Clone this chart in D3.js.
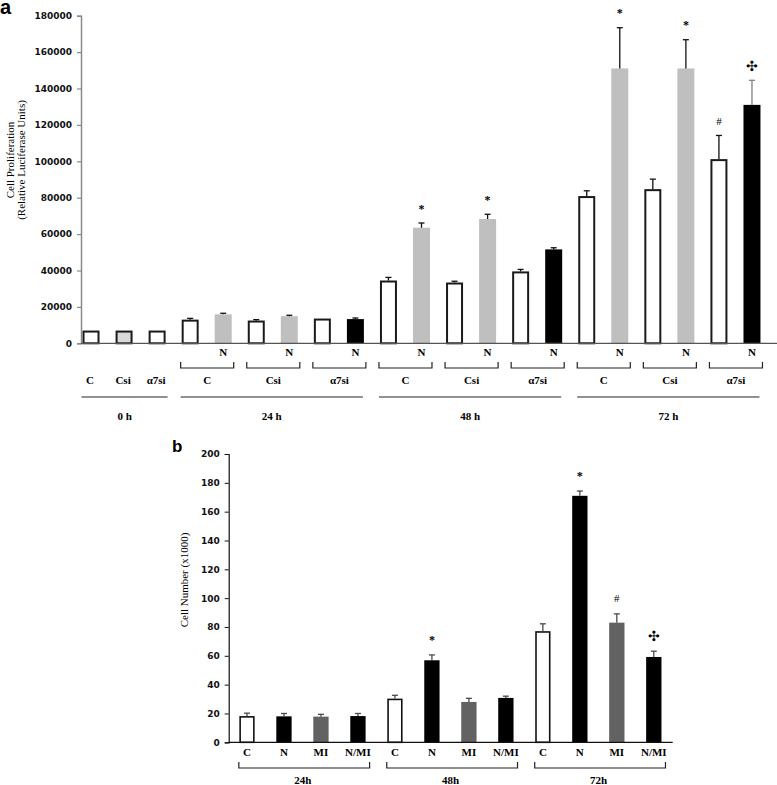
<!DOCTYPE html>
<html><head><meta charset="utf-8">
<script src="https://cdn.jsdelivr.net/npm/d3@7"></script>
<style>
body{margin:0;background:#fff;}
svg{display:block;}
.tick text{font-family:"DejaVu Sans",sans-serif;font-weight:bold;font-size:9px;fill:#111;}
</style></head>
<body>
<script>
// ---------- Panel a data ----------
const topTimes = ["0 h", "24 h", "48 h", "72 h"];
const topGroups = ["C", "Csi", "α7si"];
const topBarLabels = ["", "", "", "", "N", "", "N", "", "N", "", "N", "", "N", "", "N", "", "N", "", "N", "", "N"];
const topFills = ["white", "light", "white", "white", "gray", "white", "gray", "white", "black", "white", "gray", "white", "gray", "white", "black", "white", "gray", "white", "gray", "white", "black"];
const topValues = [7000, 7000, 7000, 13000, 15900, 12500, 14900, 13600, 13300, 34500, 63500, 33400, 68300, 39500, 51600, 80900, 151000, 84700, 151000, 101200, 131000];
const topErrors = [0, 0, 0, 700, 600, 500, 500, 0, 600, 1700, 2600, 700, 2600, 1100, 900, 2900, 22400, 5500, 15800, 13000, 13500];
const topMarks = ["", "", "", "", "", "", "", "", "", "", "*", "", "*", "", "", "", "*", "", "*", "#", "✣"];
const topTicks = [0, 20000, 40000, 60000, 80000, 100000, 120000, 140000, 160000, 180000];

// ---------- Panel b data ----------
const botTimes = ["24h", "48h", "72h"];
const botCats = ["C", "N", "MI", "N/MI", "C", "N", "MI", "N/MI", "C", "N", "MI", "N/MI"];
const botFills = ["white", "black", "dgray", "black", "white", "black", "dgray", "black", "white", "black", "dgray", "black"];
const botValues = [18.2, 18, 17.8, 18.2, 30.3, 56.9, 28, 30.8, 77.1, 171, 83, 59.2];
const botErrors = [2, 2, 1.6, 1.8, 2.3, 3.7, 2.5, 1.2, 5.1, 3.3, 6.1, 4];
const botMarks = ["", "", "", "", "", "*", "", "", "", "*", "#", "✣"];
const botTicks = [0, 20, 40, 60, 80, 100, 120, 140, 160, 180, 200];

const W = 777, H = 785;
const svg = d3.select("body").append("svg").attr("width", W).attr("height", H);
const serif = "'Liberation Serif','Times New Roman',serif";
const sans = "'Liberation Sans',Arial,sans-serif";

const fillColor = {white: "#ffffff", light: "#d9d9d9", gray: "#bfbfbf", black: "#000000", dgray: "#626262"};

// ================= Panel a =================
{
  const n = topValues.length;
  const x = d3.scaleBand().domain(d3.range(n)).range([74.5, 768.5]).paddingInner(0.486).paddingOuter(0.243);
  const y = d3.scaleLinear().domain([0, 180000]).range([343.3, 15.7]);
  const g = svg.append("g");

  const ya = g.append("g").attr("transform", "translate(81,0)")
    .call(d3.axisLeft(y).tickValues(topTicks).tickSize(4).tickPadding(5).tickFormat(d3.format("d")));
  ya.select(".domain").attr("stroke", "#8a8a8a").attr("stroke-width", 1.5);
  ya.selectAll(".tick line").attr("stroke", "#8a8a8a").attr("stroke-width", 1.2);

  topValues.forEach((v, i) => {
    const f = topFills[i];
    const outlined = (f === "white" || f === "light");
    const sw = outlined ? 2 : 0;
    g.append("rect")
      .attr("x", x(i) + sw / 2).attr("width", x.bandwidth() - sw)
      .attr("y", y(v) + sw / 2).attr("height", y(0) - y(v) - sw / 2)
      .attr("fill", fillColor[f])
      .attr("stroke", outlined ? "#1a1a1a" : "none").attr("stroke-width", sw);
    const e = topErrors[i];
    const cx = x(i) + x.bandwidth() / 2;
    if (e > 0) {
      const ec = (f === "black" && i === n - 1) ? "#808080" : "#111";
      g.append("line").attr("x1", cx).attr("x2", cx).attr("y1", y(v)).attr("y2", y(v + e))
        .attr("stroke", ec).attr("stroke-width", 1.3);
      g.append("line").attr("x1", cx - 3).attr("x2", cx + 3).attr("y1", y(v + e)).attr("y2", y(v + e))
        .attr("stroke", ec).attr("stroke-width", 1.3);
    }
    if (topMarks[i]) {
      const m = topMarks[i];
      g.append("text").attr("x", cx).attr("y", y(v + e) - 13)
        .attr("text-anchor", "middle").attr("dominant-baseline", "middle")
        .attr("font-family", m === "✣" ? "'DejaVu Sans',sans-serif" : serif)
        .attr("font-weight", m === "*" ? "bold" : "normal")
        .attr("font-size", m === "✣" ? 14 : (m === "*" ? 12 : 11))
        .text(m);
    }
    if (topBarLabels[i]) {
      g.append("text").attr("x", cx).attr("y", 353).attr("text-anchor", "middle")
        .attr("dominant-baseline", "middle").attr("font-family", serif).attr("font-weight", "bold")
        .attr("font-size", 11).text(topBarLabels[i]);
    }
  });

  g.append("line").attr("x1", 81).attr("x2", 777).attr("y1", 343.3).attr("y2", 343.3)
    .attr("stroke", "#555").attr("stroke-width", 1.3);

  for (let i = 0; i < 3; i++) {
    g.append("text").attr("x", x(i) + x.bandwidth() / 2 - 1).attr("y", 381).attr("text-anchor", "middle")
      .attr("dominant-baseline", "middle").attr("font-family", serif).attr("font-weight", "bold")
      .attr("font-size", 11).text(topGroups[i]);
  }
  for (let t = 1; t < 4; t++) {
    for (let k = 0; k < 3; k++) {
      const i0 = 3 + (t - 1) * 6 + k * 2, i1 = i0 + 1;
      const xl = x(i0) - 1, xr = x(i1) + x.bandwidth() + 2;
      g.append("path").attr("d", `M${xl},362V368H${xr}V362`).attr("fill", "none")
        .attr("stroke", "#222").attr("stroke-width", 1.2);
      g.append("text").attr("x", (xl + xr) / 2).attr("y", 381).attr("text-anchor", "middle")
        .attr("dominant-baseline", "middle").attr("font-family", serif).attr("font-weight", "bold")
        .attr("font-size", 11).text(topGroups[k]);
    }
  }
  topTimes.forEach((tl, t) => {
    const i0 = t === 0 ? 0 : 3 + (t - 1) * 6;
    const i1 = t === 0 ? 2 : i0 + 5;
    const xl = x(i0) - 1, xr = x(i1) + x.bandwidth() + (t === 0 ? 2 : -1);
    g.append("line").attr("x1", xl).attr("x2", xr).attr("y1", 397).attr("y2", 397)
      .attr("stroke", "#222").attr("stroke-width", 1);
    g.append("text").attr("x", (xl + xr) / 2).attr("y", 417).attr("text-anchor", "middle")
      .attr("dominant-baseline", "middle").attr("font-family", serif).attr("font-weight", "bold")
      .attr("font-size", 11).text(tl);
  });

  const yt = g.append("text").attr("transform", "translate(10,160) rotate(-90)")
    .attr("text-anchor", "middle").attr("font-family", serif).attr("font-size", 11);
  yt.append("tspan").attr("x", 0).attr("dy", "0.35em").text("Cell Proliferation");
  yt.append("tspan").attr("x", 0).attr("dy", "1.0em").text("(Relative Luciferase Units)");

  svg.append("text").attr("x", 0).attr("y", 14).attr("font-family", sans).attr("font-weight", "bold")
    .attr("font-size", 20).text("a");
}

// ================= Panel b =================
{
  const n = botValues.length;
  const x = d3.scaleBand().domain(d3.range(n)).range([228.5, 672.3]).paddingInner(0.586).paddingOuter(0.293);
  const y = d3.scaleLinear().domain([0, 200]).range([742.3, 454]);
  const g = svg.append("g");

  const ya = g.append("g").attr("transform", "translate(228.7,0)")
    .call(d3.axisLeft(y).tickValues(botTicks).tickSize(4).tickPadding(5).tickFormat(d3.format("d")));
  ya.select(".domain").attr("stroke", "#111").attr("stroke-width", 1.2);
  ya.selectAll(".tick line").attr("stroke", "#111").attr("stroke-width", 1);

  botValues.forEach((v, i) => {
    const f = botFills[i];
    const outlined = f === "white";
    const sw = outlined ? 1.6 : 0;
    g.append("rect")
      .attr("x", x(i) + sw / 2).attr("width", x.bandwidth() - sw)
      .attr("y", y(v) + sw / 2).attr("height", y(0) - y(v) - sw / 2)
      .attr("fill", fillColor[f])
      .attr("stroke", outlined ? "#111" : "none").attr("stroke-width", sw);
    const e = botErrors[i];
    const cx = x(i) + x.bandwidth() / 2;
    const ec = "#4a4a4a";
    g.append("line").attr("x1", cx).attr("x2", cx).attr("y1", y(v)).attr("y2", y(v + e))
      .attr("stroke", ec).attr("stroke-width", 1.3);
    g.append("line").attr("x1", cx - 3).attr("x2", cx + 3).attr("y1", y(v + e)).attr("y2", y(v + e))
      .attr("stroke", ec).attr("stroke-width", 1.3);
    if (botMarks[i]) {
      const m = botMarks[i];
      g.append("text").attr("x", cx).attr("y", y(v + e) - 14)
        .attr("text-anchor", "middle").attr("dominant-baseline", "middle")
        .attr("font-family", m === "✣" ? "'DejaVu Sans',sans-serif" : serif)
        .attr("font-weight", m === "*" ? "bold" : "normal")
        .attr("font-size", m === "✣" ? 14 : (m === "*" ? 12 : 11))
        .text(m);
    }
    g.append("text").attr("x", cx).attr("y", 753.5).attr("text-anchor", "middle")
      .attr("dominant-baseline", "middle").attr("font-family", serif).attr("font-weight", "bold")
      .attr("font-size", 11).text(botCats[i]);
  });

  g.append("line").attr("x1", 228.7).attr("x2", 672.7).attr("y1", 742.3).attr("y2", 742.3)
    .attr("stroke", "#111").attr("stroke-width", 1.3);

  botTimes.forEach((tl, t) => {
    const i0 = t * 4, i1 = i0 + 3;
    const xl = x(i0) - 0.5, xr = x(i1) + x.bandwidth() + 4;
    g.append("path").attr("d", `M${xl},762V768H${xr}V762`).attr("fill", "none")
      .attr("stroke", "#222").attr("stroke-width", 1.2);
    g.append("text").attr("x", (xl + xr) / 2 - 1.5).attr("y", 781).attr("text-anchor", "middle")
      .attr("dominant-baseline", "middle").attr("font-family", serif).attr("font-weight", "bold")
      .attr("font-size", 11).text(tl);
  });

  g.append("text").attr("transform", "translate(185,580) rotate(-90)")
    .attr("text-anchor", "middle").attr("dominant-baseline", "middle")
    .attr("font-family", serif).attr("font-size", 11).text("Cell Number (x1000)");

  svg.append("text").attr("x", 172).attr("y", 451.5).attr("font-family", sans).attr("font-weight", "bold")
    .attr("font-size", 17).text("b");
}
</script>
</body></html>
